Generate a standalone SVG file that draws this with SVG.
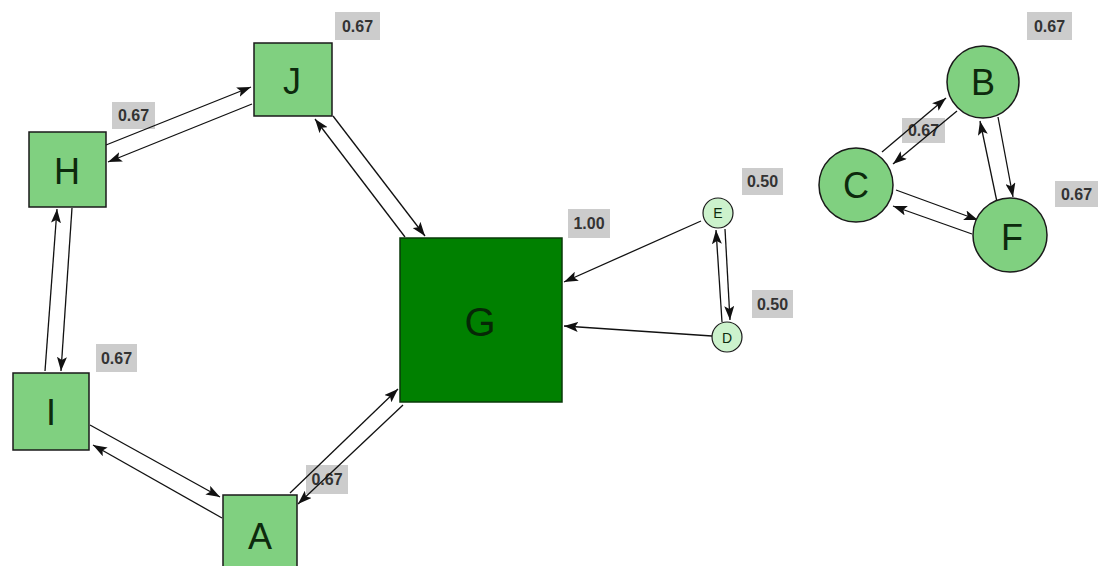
<svg xmlns="http://www.w3.org/2000/svg" width="1098" height="566" viewBox="0 0 1098 566">
<defs>
<marker id="arr" markerUnits="userSpaceOnUse" markerWidth="15" markerHeight="10" refX="14" refY="5" orient="auto">
<path d="M0,0 L14,5 L0,10 L3,5 z" fill="#111"/>
</marker>
</defs>
<style>
.bg{fill:#ffffff}
.lbl rect{fill:#cccccc}
.lbl text{font-family:"Liberation Sans",Arial,sans-serif;font-size:16px;font-weight:bold;fill:#333;text-anchor:middle;dominant-baseline:central}
.edge{stroke:#111;stroke-width:1.3;fill:none;marker-end:url(#arr)}
.n{fill:#80d080;stroke:#1a1a1a;stroke-width:1.5}
.ng{fill:#008000;stroke:#0a3a0a;stroke-width:1.5}
.ns{fill:#ccf2cc;stroke:#1a1a1a;stroke-width:1.2}
.t{font-family:"Liberation Sans",Arial,sans-serif;font-size:36px;fill:#0d2a0d;text-anchor:middle;dominant-baseline:central}
.tg{font-size:40px;fill:#062806}
.ts{font-size:14px}
</style>
<rect class="bg" x="0" y="0" width="1098" height="566"/>
<g id="labels" class="lbl">
<g id="lbl-J"><rect x="335" y="12" width="45" height="28"/><text x="357.5" y="26">0.67</text></g>
<g id="lbl-H"><rect x="112" y="102" width="43" height="27"/><text x="133.5" y="115.5">0.67</text></g>
<g id="lbl-I"><rect x="96" y="344" width="41" height="28"/><text x="116.5" y="358">0.67</text></g>
<g id="lbl-A"><rect x="306" y="465" width="42" height="29"/><text x="327" y="479.5">0.67</text></g>
<g id="lbl-G"><rect x="568" y="209" width="42" height="29"/><text x="589" y="223.5">1.00</text></g>
<g id="lbl-E"><rect x="742" y="168" width="41" height="27"/><text x="762.5" y="181.5">0.50</text></g>
<g id="lbl-D"><rect x="752" y="290" width="41" height="28"/><text x="772.5" y="304">0.50</text></g>
<g id="lbl-B"><rect x="1027" y="12" width="45" height="28"/><text x="1049.5" y="26">0.67</text></g>
<g id="lbl-F"><rect x="1055" y="181" width="43" height="26"/><text x="1076.5" y="194">0.67</text></g>
<g id="lbl-C"><rect x="902" y="118" width="43" height="25"/><text x="923.5" y="130.5">0.67</text></g>
</g>
<g id="connectors">
<line class="edge" x1="106" y1="145" x2="251" y2="87"/>
<line class="edge" x1="252" y1="104" x2="108" y2="162"/>
<line class="edge" x1="45" y1="371" x2="57" y2="209"/>
<line class="edge" x1="72" y1="208" x2="61" y2="371"/>
<line class="edge" x1="90" y1="425" x2="220" y2="497"/>
<line class="edge" x1="222" y1="518" x2="93" y2="445"/>
<line class="edge" x1="290" y1="493" x2="398" y2="389"/>
<line class="edge" x1="403" y1="405" x2="298" y2="504"/>
<line class="edge" x1="333" y1="116" x2="425" y2="236"/>
<line class="edge" x1="405" y1="237" x2="315" y2="119"/>
<line class="edge" x1="701" y1="221" x2="564" y2="282"/>
<line class="edge" x1="712" y1="336" x2="564" y2="326"/>
<line class="edge" x1="722" y1="322" x2="716" y2="230"/>
<line class="edge" x1="725" y1="229" x2="730" y2="320"/>
<line class="edge" x1="882" y1="152" x2="946" y2="98"/>
<line class="edge" x1="957" y1="111" x2="893" y2="164"/>
<line class="edge" x1="998" y1="117" x2="1013" y2="197"/>
<line class="edge" x1="997" y1="202" x2="980" y2="121"/>
<line class="edge" x1="896" y1="190" x2="978" y2="220"/>
<line class="edge" x1="972" y1="234" x2="893" y2="206"/>
</g>
<g id="node-J"><rect class="n" x="254" y="43" width="78" height="73"/><text class="t" x="292" y="81">J</text></g>
<g id="node-H"><rect class="n" x="29" y="132" width="77" height="75"/><text class="t" x="67" y="171">H</text></g>
<g id="node-I"><rect class="n" x="13" y="373" width="76" height="77"/><text class="t" x="51" y="412">I</text></g>
<g id="node-A"><rect class="n" x="223" y="495" width="74" height="75"/><text class="t" x="260" y="536">A</text></g>
<g id="node-G"><rect class="ng" x="400" y="238" width="162" height="164"/><text class="t tg" x="480" y="322">G</text></g>
<g id="node-E"><circle class="ns" cx="718" cy="213" r="15"/><text class="t ts" x="718" y="213">E</text></g>
<g id="node-D"><circle class="ns" cx="727" cy="337" r="15"/><text class="t ts" x="727" y="338">D</text></g>
<g id="node-B"><circle class="n" cx="983" cy="82" r="36"/><text class="t" x="983" y="82">B</text></g>
<g id="node-C"><circle class="n" cx="856" cy="185" r="37"/><text class="t" x="856" y="185">C</text></g>
<g id="node-F"><circle class="n" cx="1010" cy="235" r="37"/><text class="t" x="1012" y="237">F</text></g>
</svg>
